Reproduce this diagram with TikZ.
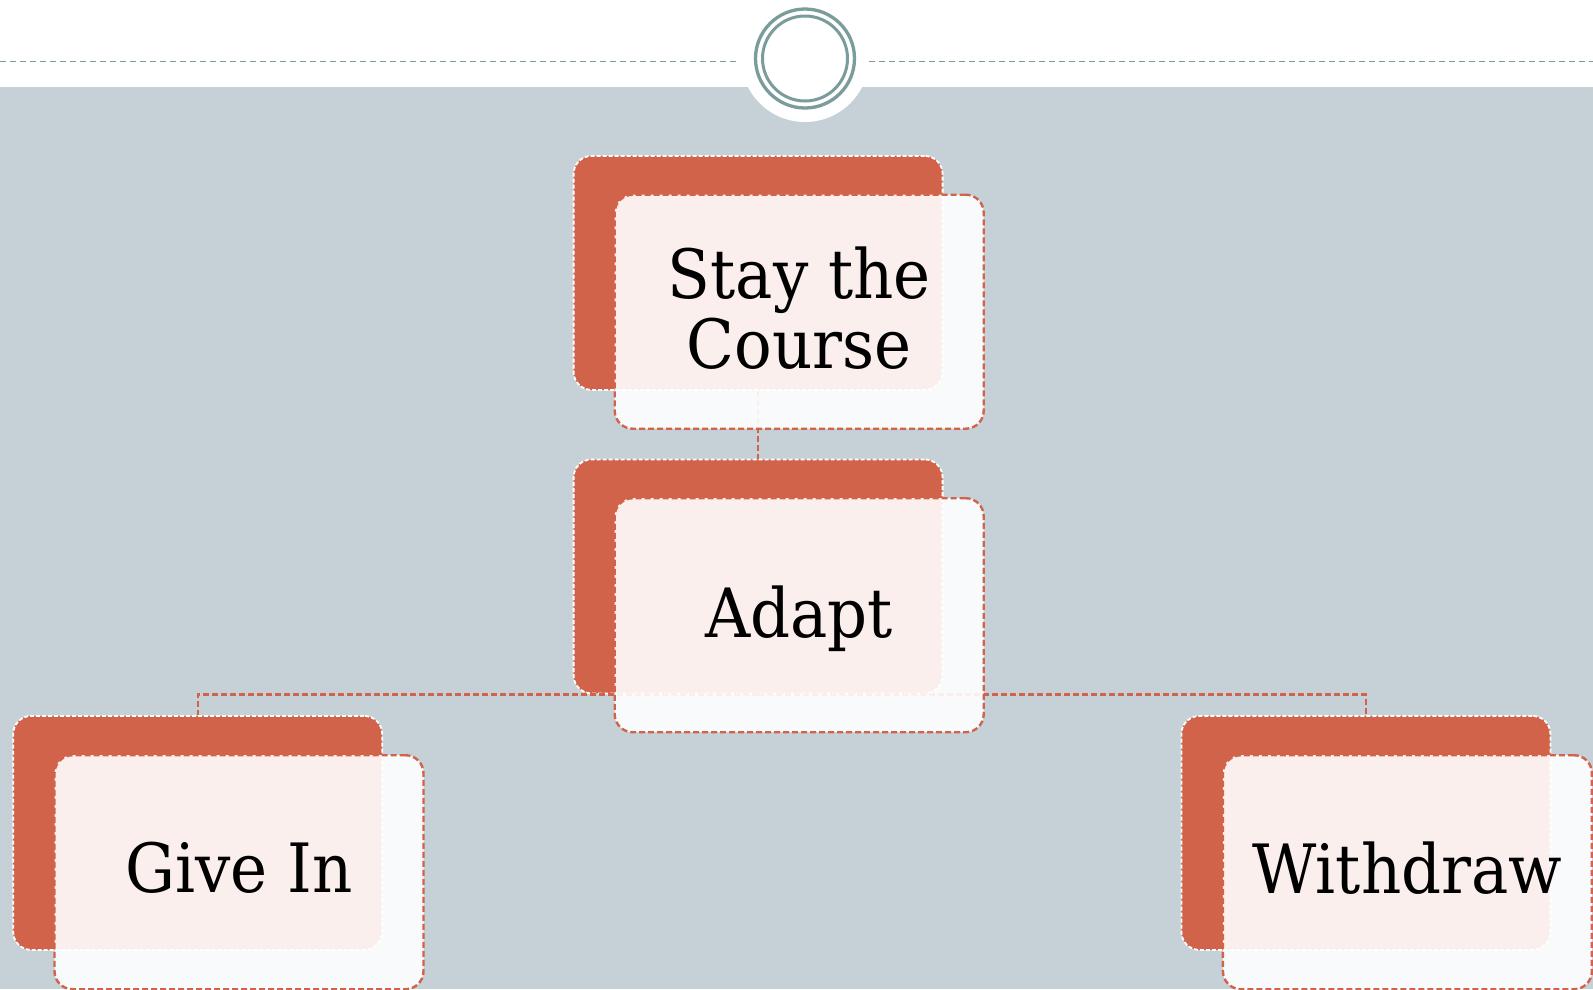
\documentclass[tikz,border=0pt]{standalone}
\usepackage{fontspec}
\setmainfont[FakeStretch=0.92]{DejaVu Serif}
\definecolor{bgc}{HTML}{C5D1D7}
\definecolor{org}{HTML}{D1634A}
\definecolor{ringc}{HTML}{7A9C9A}
\begin{document}
\begin{tikzpicture}[x=1pt,y=-1pt,
  backbox/.style={draw=white, line width=1.8pt, dash pattern=on 4pt off 2pt, fill=org,
    rounded corners=18pt, minimum width=369pt, minimum height=234pt, inner sep=0pt, anchor=north west},
  frontbox/.style={draw=org, line width=2.4pt, dash pattern=on 6pt off 3pt, fill=white,
    fill opacity=0.9, rounded corners=18pt, minimum width=369pt,
    minimum height=234pt, inner sep=0pt, anchor=north west},
  boxtext/.style={text=black, align=center, inner sep=0pt, yshift=4pt,
    font=\fontsize{68}{70}\selectfont},
  conn/.style={draw=org, line width=2.4pt, dash pattern=on 6pt off 3pt}]
\useasboundingbox (0,0) rectangle (1593,989);
% background
\fill[white] (0,0) rectangle (1593,87);
\fill[bgc] (0,87) rectangle (1593,989);
\fill[white] (805,58) circle[radius=64pt];
\draw[ringc, line width=1.3pt, dash pattern=on 6pt off 4pt] (0,61.7) -- (738,61.7);
\draw[ringc, line width=1.3pt, dash pattern=on 6pt off 4pt] (869,61.7) -- (1593,61.7);
\draw[ringc, line width=3.3pt] (805,58.5) circle[radius=49.5pt];
\draw[ringc, line width=3pt] (805,58.5) circle[radius=42.5pt];
% back boxes
\node[backbox] (stayB) at (572.7,155) {};
\node[backbox] (adaptB) at (572.7,458.5) {};
\node[backbox] (giveB) at (12.3,715) {};
\node[backbox] (withB) at (1180.5,715) {};
% connectors
\draw[conn] (stayB.south) -- (adaptB.north);
\draw[conn] (adaptB.south) -| (giveB.north);
\draw[conn] (adaptB.south) -| (withB.north);
% front boxes
\node[frontbox] (stayF) at (613.5,193.5) {};
\node[frontbox] (adaptF) at (613.5,497) {};
\node[frontbox] (giveF) at (53.3,754) {};
\node[frontbox] (withF) at (1221.7,754) {};
% texts
\node[boxtext] (stayT) at (stayF.center) {Stay the\\Course};
\node[boxtext, text depth=0pt] (adaptT) at (adaptF.center) {Adapt};
\node[boxtext] (giveT) at (giveF.center) {Give In};
\node[boxtext] (withT) at (withF.center) {Withdraw};
\end{tikzpicture}
\end{document}
